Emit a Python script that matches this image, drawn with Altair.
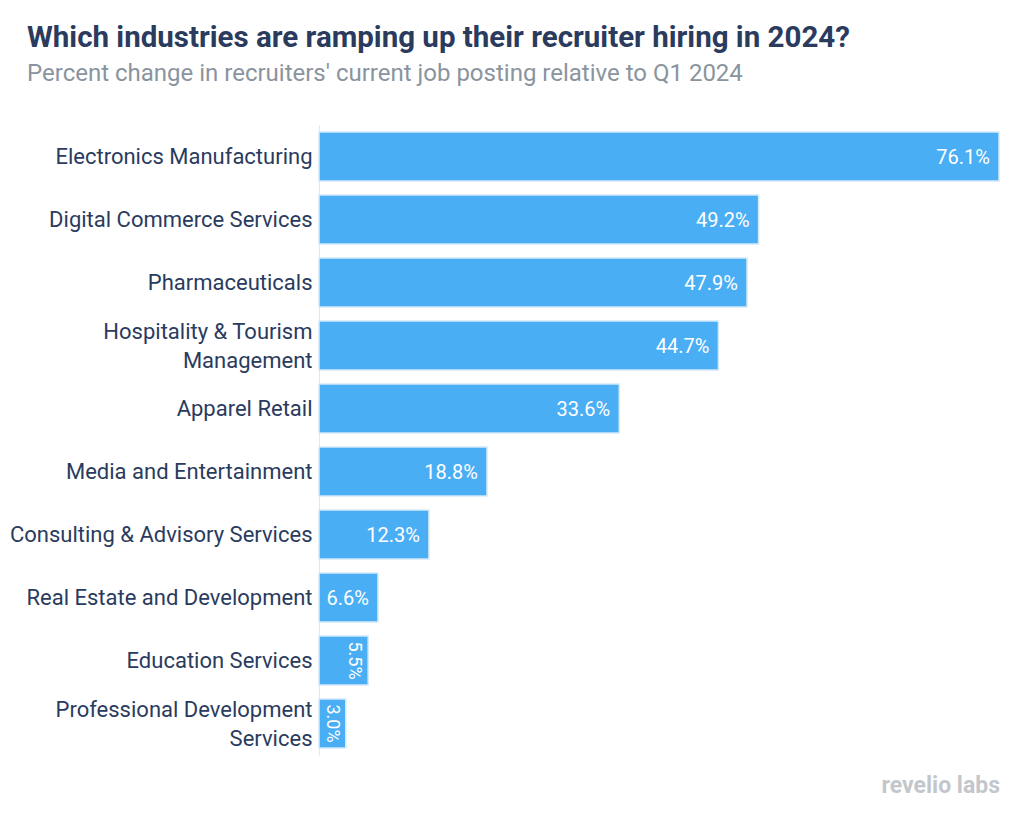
import altair as alt
import pandas as pd

industries = [
    "Electronics Manufacturing",
    "Digital Commerce Services",
    "Pharmaceuticals",
    "Hospitality & Tourism|Management",
    "Apparel Retail",
    "Media and Entertainment",
    "Consulting & Advisory Services",
    "Real Estate and Development",
    "Education Services",
    "Professional Development|Services",
]
values = [76.1, 49.2, 47.9, 44.7, 33.6, 18.8, 12.3, 6.6, 5.5, 3.0]
value_labels = ["76.1%", "49.2%", "47.9%", "44.7%", "33.6%", "18.8%", "12.3%", "6.6%", "5.5%", "3.0%"]

df = pd.DataFrame({"industry": industries, "value": values, "label": value_labels})

FONT = "Roboto"
BAR = "#4aaef5"
NAVY = "#2a3b5e"

y_enc = alt.Y(
    "industry:N",
    sort=industries,
    title=None,
    scale=alt.Scale(paddingInner=0.22, paddingOuter=0.11),
    axis=alt.Axis(
        labelExpr="split(datum.label, '|')",
        labelFontSize=22,
        labelColor=NAVY,
        labelFont=FONT,
        labelPadding=7,
        labelLineHeight=29,
        labelBaseline="middle",
        labelOffset={"condition": {"test": "indexof(datum.value, '|') >= 0", "value": -14}, "value": 0},
        ticks=False,
        domain=True,
        domainColor="#e6e6e6",
        domainWidth=1,
        labelLimit=400,
    ),
)
x_enc = alt.X("value:Q", title=None, axis=None, scale=alt.Scale(domain=[0, 76.1], nice=False))

base = alt.Chart(df)

bars = base.mark_bar(color=BAR, stroke="#d4e9f9", strokeWidth=1.5).encode(x=x_enc, y=y_enc)

labels_h = base.transform_filter("datum.value >= 6").mark_text(
    align="right", baseline="middle", dx=-9, dy=1, color="white", fontSize=20, font=FONT
).encode(x=x_enc, y=alt.Y("industry:N", sort=industries), text="label:N")

labels_v = base.transform_filter("datum.value < 6").mark_text(
    align="center", baseline="top", angle=90, dy=5, color="white", fontSize=18, font=FONT
).encode(x=x_enc, y=alt.Y("industry:N", sort=industries), text="label:N")

logo = alt.Chart(pd.DataFrame({"t": ["revelio labs"]})).mark_text(
    align="right", baseline="alphabetic", color="#c3c7cc", fontSize=23, fontWeight="bold", font=FONT
).encode(x=alt.value(681), y=alt.value(668), text="t:N")

chart = alt.layer(bars, labels_h, labels_v, logo).properties(
    width=680,
    height=630,
    background="white",
    autosize=alt.AutoSizeParams(type="none"),
    padding={"left": 311, "top": 117, "right": 14, "bottom": 55},
    title=alt.TitleParams(
        text="Which industries are ramping up their recruiter hiring in 2024?",
        subtitle="Percent change in recruiters' current job posting relative to Q1 2024",
        anchor="start",
        frame="group",
        dx=-292,
        offset=38,
        font=FONT,
        fontSize=29.5,
        fontWeight="bold",
        color=NAVY,
        subtitleFont=FONT,
        subtitleFontSize=24,
        subtitleColor="#8a949e",
        subtitlePadding=9,
    ),
).configure_view(strokeWidth=0, stroke="transparent")

chart.save("out.html", embed_options={"renderer": "svg", "actions": False})
